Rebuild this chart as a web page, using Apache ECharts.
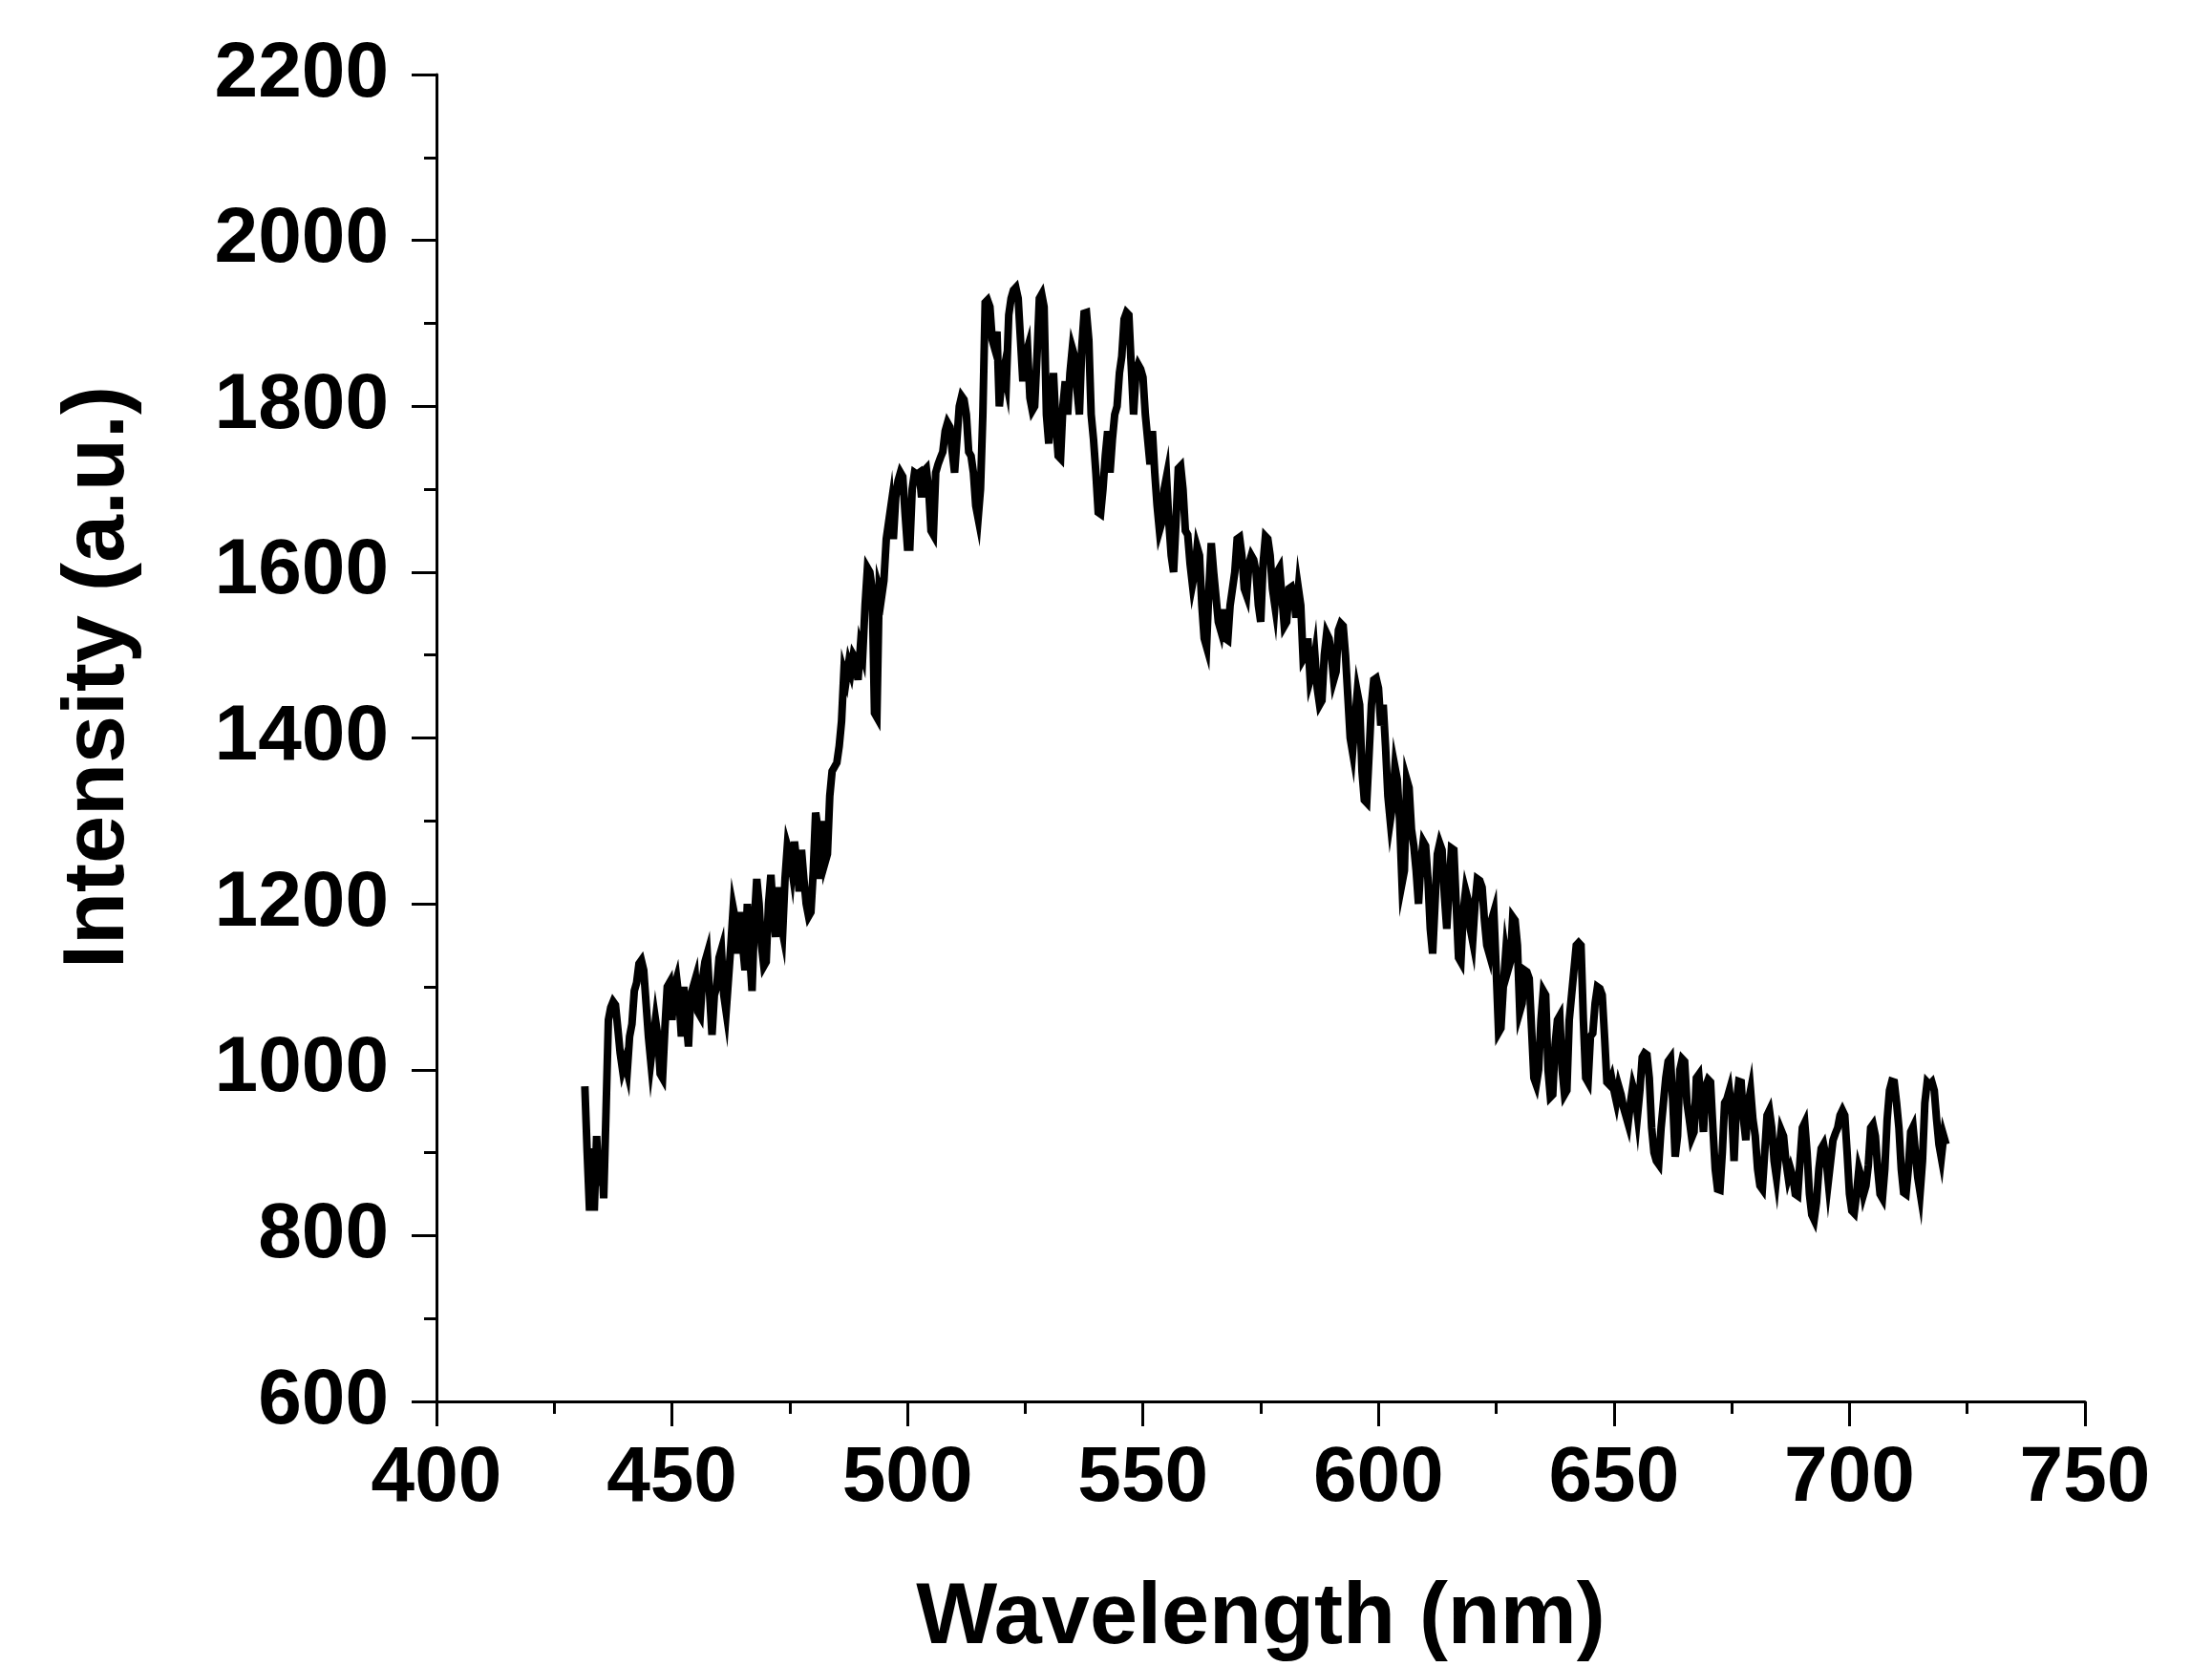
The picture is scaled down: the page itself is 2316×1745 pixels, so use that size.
<!DOCTYPE html>
<html>
<head>
<meta charset="utf-8">
<script src="https://cdn.jsdelivr.net/npm/echarts@6/dist/echarts.min.js"></script>
<style>html,body{margin:0;padding:0;background:#fff;}</style>
</head>
<body>
<div id="main" style="width:2316px;height:1745px;"></div>
<script>
// spectrum sampled every 0.5 nm, first point at 431.5 nm
var firstWavelength = 431.5;
var wavelengthStep = 0.5;

// intensity, one row = 5 nm
var intensity = [
  980, 900, 830, 905, 830, 920, 860, 900, 845, 950,
  1060, 1075, 1082, 1078, 1050, 1020, 1000, 1010, 998, 1040,
  1055, 1095, 1105, 1128, 1132, 1120, 1080, 1040, 1010, 1035,
  1060, 1040, 995, 990, 1050, 1100, 1105, 1060, 1100, 1110,
  1085, 1040, 1100, 1060, 1028, 1090, 1100, 1110, 1070, 1065,
  1110, 1130, 1140, 1090, 1042, 1090, 1100, 1135, 1145, 1090,
  1070, 1110, 1150, 1195, 1180, 1140, 1190, 1150, 1120, 1200,
  1140, 1095, 1180, 1230, 1200, 1150, 1125, 1130, 1200, 1235,
  1190, 1160, 1220, 1180, 1165, 1230, 1270, 1260, 1240, 1275,
  1250, 1215, 1265, 1230, 1200, 1185, 1190, 1240, 1310, 1290,
  1230, 1300, 1250, 1260, 1330, 1360, 1365, 1370, 1390, 1420,
  1480, 1470, 1490, 1480, 1500, 1495, 1470, 1510, 1500, 1560,
  1605, 1600, 1580, 1430, 1425, 1580, 1570, 1590, 1640, 1660,
  1680, 1640, 1690, 1710, 1720, 1715, 1670, 1630, 1630, 1700,
  1720, 1718, 1720, 1690, 1722, 1725, 1700, 1650, 1645, 1720,
  1730, 1738, 1745, 1770, 1780, 1775, 1745, 1720, 1760, 1800,
  1812, 1808, 1790, 1745, 1740, 1720, 1680, 1665, 1700, 1790,
  1925, 1928, 1920, 1880, 1870, 1890, 1800, 1830, 1845, 1830,
  1910, 1930, 1940, 1943, 1930, 1880, 1830, 1860, 1870, 1810,
  1795, 1800, 1860, 1930, 1935, 1920, 1790, 1755, 1800, 1840,
  1780, 1740, 1737, 1800, 1830, 1790, 1840, 1870, 1860, 1820,
  1790, 1870, 1912, 1913, 1880, 1790, 1760, 1720, 1672, 1670,
  1700, 1740, 1770, 1720, 1760, 1790, 1800, 1840, 1860, 1905,
  1913, 1910, 1850, 1790, 1840, 1850, 1845, 1835, 1790, 1760,
  1730, 1770, 1720, 1680, 1650, 1660, 1700, 1715, 1660, 1620,
  1600, 1660, 1725, 1728, 1700, 1650, 1645, 1610, 1585, 1600,
  1630, 1620, 1560, 1520, 1510, 1580, 1635, 1600, 1570, 1540,
  1530, 1555, 1520, 1518, 1560, 1580, 1600, 1640, 1642, 1620,
  1580, 1572, 1610, 1620, 1615, 1600, 1560, 1540, 1610, 1643,
  1640, 1620, 1580, 1560, 1600, 1605, 1570, 1535, 1540, 1580,
  1582, 1570, 1545, 1580, 1560, 1495, 1500, 1520, 1470, 1480,
  1500, 1460, 1440, 1445, 1500, 1526, 1520, 1500, 1470, 1480,
  1530, 1538, 1535, 1500, 1450, 1400, 1383, 1420, 1455, 1440,
  1360, 1325, 1322, 1380, 1440, 1470, 1472, 1460, 1415, 1440,
  1390, 1330, 1300, 1320, 1365, 1350, 1300, 1225, 1240, 1350,
  1340, 1290, 1270, 1240, 1200, 1250, 1275, 1270, 1230, 1170,
  1140, 1200, 1260, 1273, 1265, 1210, 1170, 1220, 1267, 1265,
  1200, 1135, 1130, 1190, 1216, 1205, 1170, 1155, 1200, 1230,
  1228, 1220, 1180, 1150, 1140, 1180, 1190, 1120, 1045, 1050,
  1100, 1140, 1120, 1130, 1184, 1180, 1150, 1070, 1080, 1120,
  1118, 1110, 1050, 990, 982, 1000, 1060, 1095, 1090, 1000,
  967, 970, 1030, 1060, 1065, 1000, 970, 975, 1060, 1090,
  1120, 1150, 1153, 1150, 1060, 990, 985, 1040, 1044, 1080,
  1100, 1098, 1090, 1040, 985, 982, 990, 975, 962, 980,
  970, 955, 945, 935, 960, 980, 970, 945, 975, 1015,
  1020, 1018, 990, 930, 900, 890, 886, 930, 960, 990,
  1010, 1014, 960, 895, 920, 1000, 1013, 1010, 960, 940,
  918, 925, 990, 994, 960, 925, 980, 988, 985, 930,
  880, 856, 855, 900, 960, 965, 975, 950, 890, 960,
  986, 985, 940, 915, 960, 975, 940, 920, 880, 860,
  856, 900, 945, 951, 930, 890, 870, 900, 927, 920,
  890, 870, 880, 870, 850, 848, 890, 930, 936, 900,
  850, 825, 819, 840, 880, 905, 910, 895, 865, 890,
  915, 923, 930, 945, 951, 945, 900, 850, 830, 827,
  850, 880, 870, 850, 860, 885, 930, 934, 920, 880,
  850, 845, 880, 940, 975, 986, 985, 960, 930, 880,
  852, 850, 880, 925, 931, 900, 870, 852, 890, 960,
  985, 982, 985, 975, 940, 910, 894, 920, 910
];

var xTitle = 'Wavelength (nm)';
var yTitle = 'Intensity (a.u.)';
var font = 'Liberation Sans';

var points = [];
for (var i = 0; i < intensity.length; i++) {
  points.push([firstWavelength + i * wavelengthStep, intensity[i]]);
}

var myChart = echarts.init(document.getElementById('main'));

var axisBits = function(min, max, interval, margin) {
  return {
    type: 'value',
    min: min,
    max: max,
    interval: interval,
    axisLine: { show: true, onZero: false, lineStyle: { color: '#000', width: 3 } },
    axisTick: { show: true, inside: false, length: 26, lineStyle: { color: '#000', width: 3 } },
    minorTick: { show: true, splitNumber: 2, length: 13, lineStyle: { color: '#000', width: 3 } },
    axisLabel: {
      fontFamily: font, fontWeight: 'bold', fontSize: 82, color: '#000', margin: margin,
      formatter: function(v) { return String(v); } // no thousands separator
    },
    splitLine: { show: false },
    minorSplitLine: { show: false }
  };
};

var xAxis = axisBits(400, 750, 50, 40);
xAxis.name = xTitle;
xAxis.nameLocation = 'middle';
xAxis.nameGap = 183;
xAxis.nameTextStyle = { fontFamily: font, fontWeight: 'bold', fontSize: 90, color: '#000' };

var yAxis = axisBits(600, 2200, 200, 50);

var option = {
  animation: false,
  backgroundColor: '#fff',
  grid: { left: 457, right: 133, top: 78, bottom: 278 },
  xAxis: xAxis,
  yAxis: yAxis,
  graphic: [{
    type: 'text',
    x: 104,
    y: 709,
    rotation: Math.PI / 2,
    style: {
      text: yTitle,
      font: 'bold 90px "Liberation Sans"',
      fill: '#000',
      textAlign: 'center',
      textVerticalAlign: 'middle'
    }
  }],
  series: [{
    type: 'line',
    data: points,
    symbol: 'none',
    smooth: false,
    lineStyle: { color: '#000', width: 8, join: 'miter', cap: 'butt' },
    itemStyle: { color: '#000' }
  }]
};

myChart.setOption(option);
</script>
</body>
</html>
